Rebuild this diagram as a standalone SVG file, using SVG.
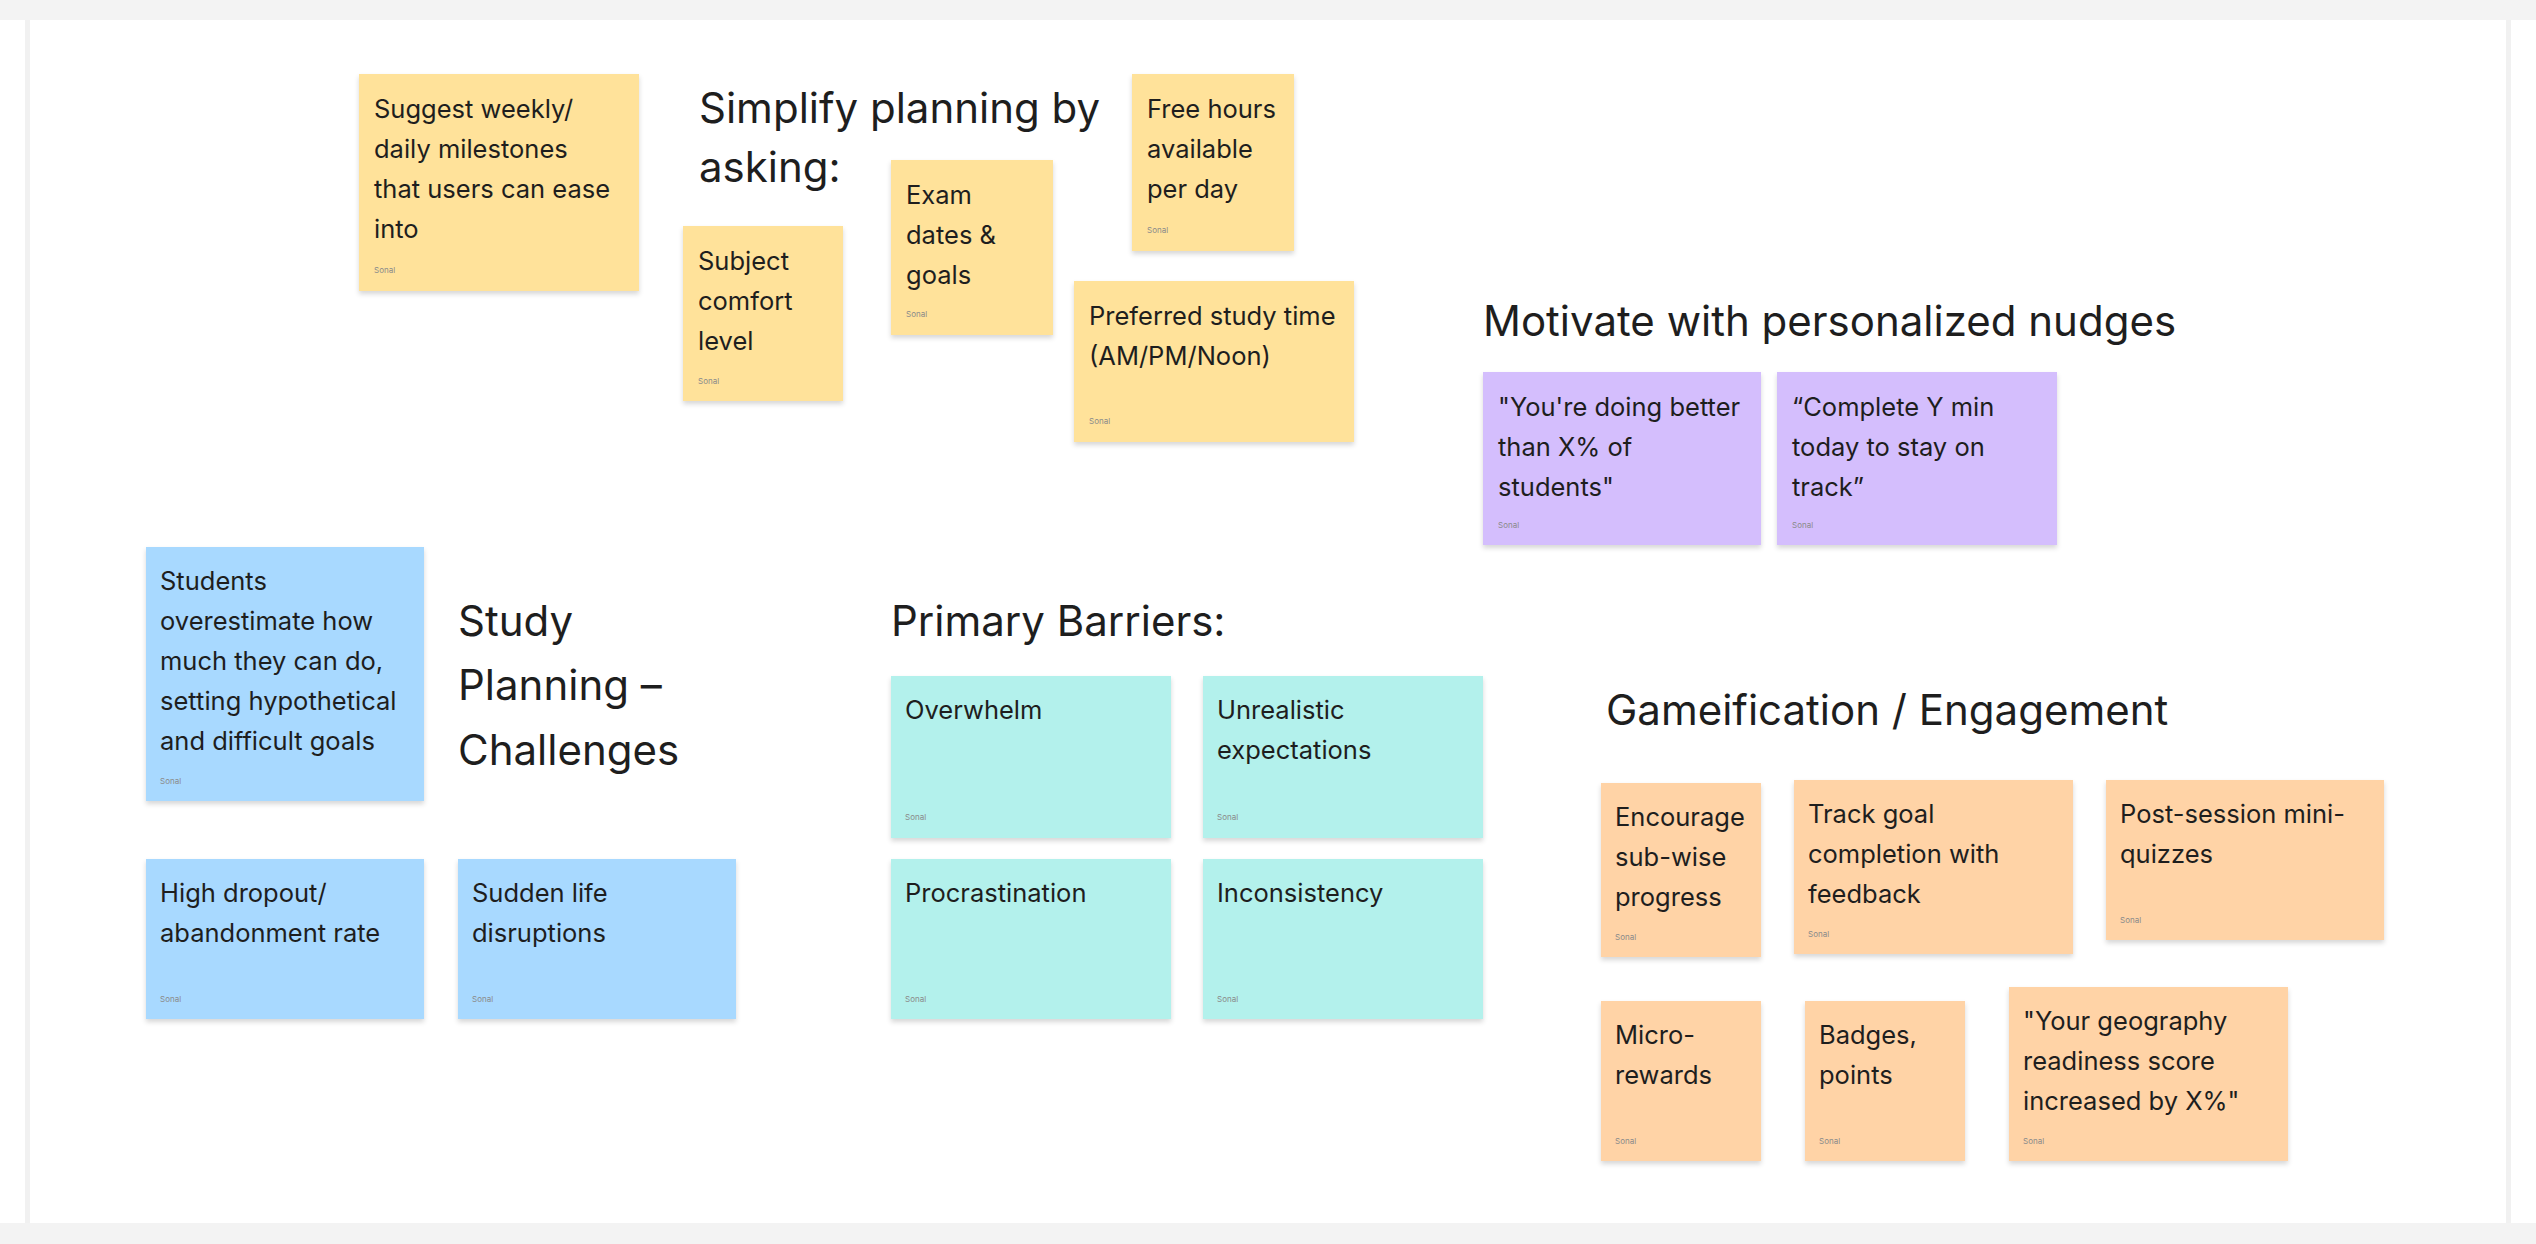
<svg xmlns="http://www.w3.org/2000/svg" width="2536" height="1244" viewBox="0 0 2536 1244">
<defs>
<filter id="sh" x="-10%" y="-10%" width="120%" height="130%">
<feDropShadow dx="0" dy="3" stdDeviation="2.5" flood-color="#000" flood-opacity="0.16"/>
</filter>
<style>
.note{filter:url(#sh)}
.y{fill:#FFE29A}
.p{fill:#D4BEFD}
.b{fill:#A8D9FF}
.c{fill:#B3F1EC}
.o{fill:#FFD3A6}
.t{font-family:Inter,"Liberation Sans",sans-serif;font-size:25.5px;fill:#1E1E1E}
.s{font-family:Inter,"Liberation Sans",sans-serif;font-size:8px;fill:#8a8a8a}
.h{font-family:Inter,"Liberation Sans",sans-serif;font-size:42px;fill:#1E1E1E}
</style>
</defs>
<rect x="0" y="0" width="2536" height="1244" fill="#ffffff"/>
<rect x="0" y="0" width="2536" height="20" fill="#f3f3f3"/>
<rect x="0" y="1223" width="2536" height="21" fill="#f3f3f3"/>
<rect x="25" y="20" width="5" height="1203" fill="#f1f1f1"/>
<rect x="2506" y="20" width="5" height="1203" fill="#f1f1f1"/>

<g id="connectors"/>

<g id="title-simplify">
<text class="h" x="699" y="123">Simplify planning by</text>
<text class="h" x="699" y="182">asking:</text>
</g>
<g id="title-motivate"><text class="h" x="1483" y="336">Motivate with personalized nudges</text></g>
<g id="title-study">
<text class="h" x="458" y="636">Study</text>
<text class="h" x="458" y="700">Planning –</text>
<text class="h" x="458" y="765">Challenges</text>
</g>
<g id="title-barriers"><text class="h" x="891" y="636">Primary Barriers:</text></g>
<g id="title-game"><text class="h" x="1606" y="725">Gameification / Engagement</text></g>

<g id="n-suggest">
<rect class="note y" x="359" y="74" width="280" height="217"/>
<text class="t" x="374" y="118">Suggest weekly/</text>
<text class="t" x="374" y="158">daily milestones</text>
<text class="t" x="374" y="198">that users can ease</text>
<text class="t" x="374" y="238">into</text>
<text class="s" x="374" y="273">Sonal</text>
</g>
<g id="n-subject">
<rect class="note y" x="683" y="226" width="160" height="175"/>
<text class="t" x="698" y="270">Subject</text>
<text class="t" x="698" y="310">comfort</text>
<text class="t" x="698" y="350">level</text>
<text class="s" x="698" y="384">Sonal</text>
</g>
<g id="n-exam">
<rect class="note y" x="891" y="160" width="162" height="175"/>
<text class="t" x="906" y="204">Exam</text>
<text class="t" x="906" y="244">dates &amp;</text>
<text class="t" x="906" y="284">goals</text>
<text class="s" x="906" y="317">Sonal</text>
</g>
<g id="n-free">
<rect class="note y" x="1132" y="74" width="162" height="177"/>
<text class="t" x="1147" y="118">Free hours</text>
<text class="t" x="1147" y="158">available</text>
<text class="t" x="1147" y="198">per day</text>
<text class="s" x="1147" y="233">Sonal</text>
</g>
<g id="n-preferred">
<rect class="note y" x="1074" y="281" width="280" height="161"/>
<text class="t" x="1089" y="325">Preferred study time</text>
<text class="t" x="1089" y="365">(AM/PM/Noon)</text>
<text class="s" x="1089" y="424">Sonal</text>
</g>

<g id="n-better">
<rect class="note p" x="1483" y="372" width="278" height="173"/>
<text class="t" x="1498" y="416">"You're doing better</text>
<text class="t" x="1498" y="456">than X% of</text>
<text class="t" x="1498" y="496">students"</text>
<text class="s" x="1498" y="528">Sonal</text>
</g>
<g id="n-complete">
<rect class="note p" x="1777" y="372" width="280" height="173"/>
<text class="t" x="1792" y="416">“Complete Y min</text>
<text class="t" x="1792" y="456">today to stay on</text>
<text class="t" x="1792" y="496">track”</text>
<text class="s" x="1792" y="528">Sonal</text>
</g>

<g id="n-students">
<rect class="note b" x="146" y="547" width="278" height="254"/>
<text class="t" x="160" y="590">Students</text>
<text class="t" x="160" y="630">overestimate how</text>
<text class="t" x="160" y="670">much they can do,</text>
<text class="t" x="160" y="710">setting hypothetical</text>
<text class="t" x="160" y="750">and difficult goals</text>
<text class="s" x="160" y="784">Sonal</text>
</g>
<g id="n-dropout">
<rect class="note b" x="146" y="859" width="278" height="160"/>
<text class="t" x="160" y="902">High dropout/</text>
<text class="t" x="160" y="942">abandonment rate</text>
<text class="s" x="160" y="1002">Sonal</text>
</g>
<g id="n-sudden">
<rect class="note b" x="458" y="859" width="278" height="160"/>
<text class="t" x="472" y="902">Sudden life</text>
<text class="t" x="472" y="942">disruptions</text>
<text class="s" x="472" y="1002">Sonal</text>
</g>

<g id="n-overwhelm">
<rect class="note c" x="891" y="676" width="280" height="162"/>
<text class="t" x="905" y="719">Overwhelm</text>
<text class="s" x="905" y="820">Sonal</text>
</g>
<g id="n-unrealistic">
<rect class="note c" x="1203" y="676" width="280" height="162"/>
<text class="t" x="1217" y="719">Unrealistic</text>
<text class="t" x="1217" y="759">expectations</text>
<text class="s" x="1217" y="820">Sonal</text>
</g>
<g id="n-procrastination">
<rect class="note c" x="891" y="859" width="280" height="160"/>
<text class="t" x="905" y="902">Procrastination</text>
<text class="s" x="905" y="1002">Sonal</text>
</g>
<g id="n-inconsistency">
<rect class="note c" x="1203" y="859" width="280" height="160"/>
<text class="t" x="1217" y="902">Inconsistency</text>
<text class="s" x="1217" y="1002">Sonal</text>
</g>

<g id="n-encourage">
<rect class="note o" x="1601" y="783" width="160" height="174"/>
<text class="t" x="1615" y="826">Encourage</text>
<text class="t" x="1615" y="866">sub-wise</text>
<text class="t" x="1615" y="906">progress</text>
<text class="s" x="1615" y="940">Sonal</text>
</g>
<g id="n-track">
<rect class="note o" x="1794" y="780" width="279" height="174"/>
<text class="t" x="1808" y="823">Track goal</text>
<text class="t" x="1808" y="863">completion with</text>
<text class="t" x="1808" y="903">feedback</text>
<text class="s" x="1808" y="937">Sonal</text>
</g>
<g id="n-quiz">
<rect class="note o" x="2106" y="780" width="278" height="160"/>
<text class="t" x="2120" y="823">Post-session mini-</text>
<text class="t" x="2120" y="863">quizzes</text>
<text class="s" x="2120" y="923">Sonal</text>
</g>
<g id="n-micro">
<rect class="note o" x="1601" y="1001" width="160" height="160"/>
<text class="t" x="1615" y="1044">Micro-</text>
<text class="t" x="1615" y="1084">rewards</text>
<text class="s" x="1615" y="1144">Sonal</text>
</g>
<g id="n-badges">
<rect class="note o" x="1805" y="1001" width="160" height="160"/>
<text class="t" x="1819" y="1044">Badges,</text>
<text class="t" x="1819" y="1084">points</text>
<text class="s" x="1819" y="1144">Sonal</text>
</g>
<g id="n-geography">
<rect class="note o" x="2009" y="987" width="279" height="174"/>
<text class="t" x="2023" y="1030">"Your geography</text>
<text class="t" x="2023" y="1070">readiness score</text>
<text class="t" x="2023" y="1110">increased by X%"</text>
<text class="s" x="2023" y="1144">Sonal</text>
</g>
</svg>
